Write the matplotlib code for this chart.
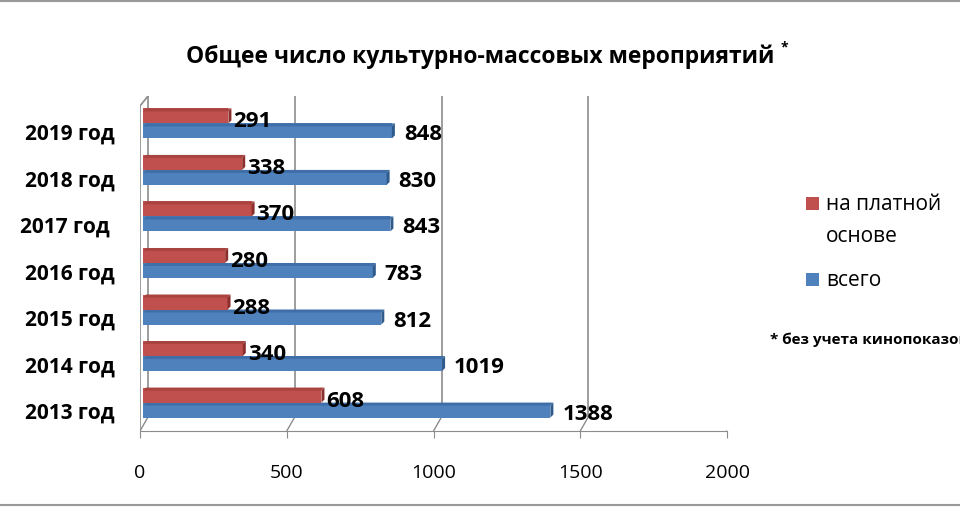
import matplotlib
matplotlib.use('Agg')
import matplotlib.pyplot as plt
from matplotlib.patches import Rectangle, Polygon
from matplotlib.lines import Line2D

plt.rcParams['font.family'] = ['Open Sans', 'DejaVu Sans']

years = ['2013 год', '2014 год', '2015 год', '2016 год', '2017 год ', '2018 год', '2019 год']
total = [1388, 1019, 812, 783, 843, 830, 848]
paid = [608, 340, 288, 280, 370, 338, 291]
xticks = [0, 500, 1000, 1500, 2000]
title = 'Общее число культурно-массовых мероприятий'
legend_labels = ['на платной', 'основе', 'всего']
note = '* без учета кинопоказов'

red, red_dark, red_top = '#C0504D', '#8C2F2C', '#A84340'
blue, blue_dark, blue_top = '#4F81BD', '#2F5A8C', '#3F6EA8'
grid_c = '#8C8C8C'

W, H = 960, 510
fig = plt.figure(figsize=(9.6, 5.1), dpi=100)
ax = fig.add_axes([140 / W, 1 - 432 / H, 587 / W, 335 / H])
ax.set_xlim(0, 2000)
ax.set_ylim(-0.45, 6.75)
ax.patch.set_alpha(0)
for s in ['top', 'right', 'left']:
    ax.spines[s].set_visible(False)
ax.spines['bottom'].set_color(grid_c)

# pixel -> data helpers
px_x = 2000 / 587.0
px_y = 7.2 / 335.0
depth_x = 8 * px_x
back_y = -0.45 + 14 * px_y
top_y = 6.75

# back wall gridlines + floor diagonals
for v in xticks:
    ax.plot([v + depth_x, v + depth_x], [back_y, top_y], color=grid_c, lw=1.2, zorder=1)
    ax.plot([v, v + depth_x], [-0.45, back_y], color=grid_c, lw=1.0, zorder=1)
# left wall front edge
ax.plot([0, 0], [-0.45, top_y - 10 * px_y], color=grid_c, lw=1.2, zorder=1)
ax.plot([0, depth_x], [top_y - 10 * px_y, top_y], color=grid_c, lw=1.2, zorder=1)

bh = 15 * px_y
x0 = 3 * px_x
dx = 3 * px_x
dy = 3 * px_y


def bar3d(yc, val, c, cd, ct, z):
    y0 = yc - bh / 2
    y1 = yc + bh / 2
    xe = x0 + val
    ax.add_patch(Rectangle((x0, y0), val, bh, facecolor=c, edgecolor='none', zorder=z))
    ax.add_patch(Polygon([(x0, y1 - dy), (xe, y1 - dy), (xe + dx, y1), (x0 + dx, y1)],
                         closed=True, facecolor=ct, edgecolor='none', zorder=z))
    ax.add_patch(Polygon([(xe, y0), (xe, y1 - dy), (xe + dx, y1), (xe + dx, y0 + dy)],
                         closed=True, facecolor=cd, edgecolor='none', zorder=z))


for i in range(len(years)):
    bar3d(i, total[i], blue, blue_dark, blue_top, 3)
    bar3d(i + bh, paid[i], red, red_dark, red_top, 4)
    ax.text(x0 + paid[i] + 5 * px_x, i + bh - 5 * px_y, str(paid[i]), ha='left', va='center',
            fontsize=16, fontweight='bold', zorder=6)
    ax.text(x0 + total[i] + 12 * px_x, i - 3 * px_y, str(total[i]), ha='left', va='center',
            fontsize=16, fontweight='bold', zorder=6)

ax.set_xticks(xticks)
ax.set_xticklabels([str(v) for v in xticks], fontsize=14)
ax.tick_params(axis='x', direction='out', length=5, color=grid_c, pad=18)
ax.set_yticks(range(len(years)))
ax.set_yticklabels(years, fontsize=15, fontweight='bold')
ax.tick_params(axis='y', length=0, pad=18)

fig.text(480 / W, 1 - 57 / H, title, ha='center', va='center', fontsize=16.5, fontweight='bold')
fig.text(781 / W, 1 - 47 / H, '*', ha='left', va='center', fontsize=10, fontweight='bold')

# legend
fig.add_artist(Rectangle((806 / W, 1 - 211 / H), 13 / W, 13 / H, transform=fig.transFigure,
                         facecolor=red, edgecolor='none'))
fig.text(826 / W, 1 - 204 / H, legend_labels[0], ha='left', va='center', fontsize=15)
fig.text(826 / W, 1 - 236 / H, legend_labels[1], ha='left', va='center', fontsize=15)
fig.add_artist(Rectangle((806 / W, 1 - 287 / H), 13 / W, 13 / H, transform=fig.transFigure,
                         facecolor=blue, edgecolor='none'))
fig.text(826 / W, 1 - 281 / H, legend_labels[2], ha='left', va='center', fontsize=15)

# the reference cuts this note off at the right edge as well
fig.text(770 / W, 1 - 340 / H, note, ha='left', va='center', fontsize=11, fontweight='bold')

# outer frame lines
fig.add_artist(Line2D([0, 1], [1 - 2 / H, 1 - 2 / H], transform=fig.transFigure, color='#999999', lw=1.5))
fig.add_artist(Line2D([0, 1], [1 - 506 / H, 1 - 506 / H], transform=fig.transFigure, color='#999999', lw=1.5))

fig.savefig('out.png', dpi=100)
